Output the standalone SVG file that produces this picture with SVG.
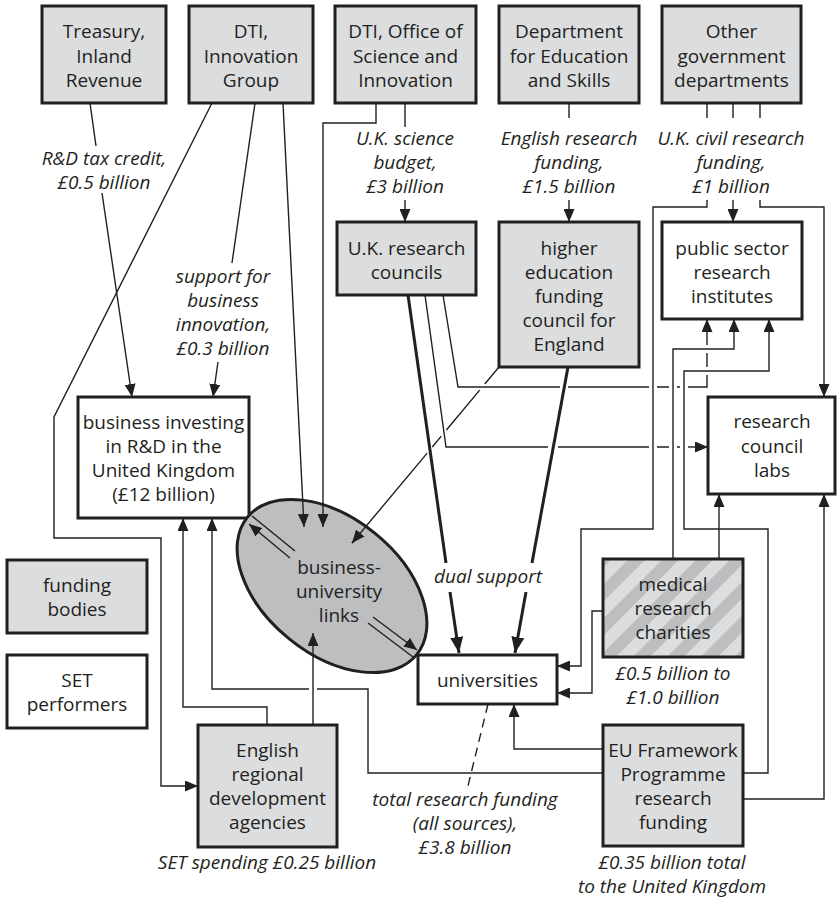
<svg xmlns="http://www.w3.org/2000/svg" width="837" height="899" viewBox="0 0 837 899">
<style>
.box{fill:#dcdddf;stroke:#231f20;stroke-width:3}
.wbox{fill:#fff;stroke:#231f20;stroke-width:3}
.t{font-family:"Open Sans","Noto Sans",sans-serif;font-size:19px;fill:#231f20;text-anchor:middle}
.i{font-style:italic}
.c{fill:none;stroke:#231f20;stroke-width:1.4}
.k{fill:none;stroke:#231f20;stroke-width:3}
.d{stroke-dasharray:9 6}
</style>
<defs>
<marker id="a" viewBox="0 0 13 11" refX="13" refY="5.5" markerWidth="13" markerHeight="11" markerUnits="userSpaceOnUse" orient="auto"><path d="M0,0 L13,5.5 L0,11 z" fill="#231f20"/></marker>
<marker id="b" viewBox="0 0 16 13" refX="16" refY="6.5" markerWidth="16" markerHeight="13" markerUnits="userSpaceOnUse" orient="auto"><path d="M0,0 L16,6.5 L0,13 z" fill="#231f20"/></marker>
<pattern id="hatch" patternUnits="userSpaceOnUse" width="24" height="24" patternTransform="rotate(45)">
<rect width="24" height="24" fill="#dcdddf"/><rect width="12" height="24" fill="#bcbec0"/>
</pattern>
</defs>
<rect width="837" height="899" fill="#fff"/>

<g id="treasury"><rect class="box" x="42" y="6" width="124" height="97"/>
<text class="t" x="104" y="38">Treasury,</text><text class="t" x="104" y="62.5">Inland</text><text class="t" x="104" y="87">Revenue</text></g>
<g id="dti-innovation"><rect class="box" x="189" y="6" width="124" height="97"/>
<text class="t" x="251" y="38">DTI,</text><text class="t" x="251" y="62.5">Innovation</text><text class="t" x="251" y="87">Group</text></g>
<g id="dti-office"><rect class="box" x="335" y="6" width="141" height="97"/>
<text class="t" x="405.5" y="38">DTI, Office of</text><text class="t" x="405.5" y="62.5">Science and</text><text class="t" x="405.5" y="87">Innovation</text></g>
<g id="dfes"><rect class="box" x="499" y="6" width="140" height="97"/>
<text class="t" x="569" y="38">Department</text><text class="t" x="569" y="62.5">for Education</text><text class="t" x="569" y="87">and Skills</text></g>
<g id="other-govt"><rect class="box" x="662" y="6" width="139" height="97"/>
<text class="t" x="731.5" y="38">Other</text><text class="t" x="731.5" y="62.5">government</text><text class="t" x="731.5" y="87">departments</text></g>

<g id="research-councils"><rect class="box" x="337" y="222" width="139" height="73"/>
<text class="t" x="406.5" y="255">U.K. research</text><text class="t" x="406.5" y="279">councils</text></g>
<g id="hefce"><rect class="box" x="499" y="222" width="140" height="145"/>
<text class="t" x="569" y="255">higher</text><text class="t" x="569" y="279">education</text><text class="t" x="569" y="303">funding</text><text class="t" x="569" y="327">council for</text><text class="t" x="569" y="351">England</text></g>
<g id="psri"><rect class="wbox" x="662" y="222" width="140" height="97"/>
<text class="t" x="732" y="255">public sector</text><text class="t" x="732" y="279">research</text><text class="t" x="732" y="303">institutes</text></g>
<g id="rc-labs"><rect class="wbox" x="708" y="397" width="127" height="97"/>
<text class="t" x="772" y="428">research</text><text class="t" x="772" y="452.5">council</text><text class="t" x="772" y="477">labs</text></g>
<g id="business"><rect class="wbox" x="78" y="397" width="171" height="121"/>
<text class="t" x="163.5" y="429">business investing</text><text class="t" x="163.5" y="453">in R&amp;D in the</text><text class="t" x="163.5" y="477">United Kingdom</text><text class="t" x="163.5" y="501">(£12 billion)</text></g>
<g id="links"><ellipse cx="332" cy="586" rx="109" ry="68" transform="rotate(39 332 586)" fill="#bcbec0" stroke="#231f20" stroke-width="3"/>
<text class="t" x="339" y="574">business-</text><text class="t" x="339" y="598">university</text><text class="t" x="339" y="622">links</text></g>
<g id="universities"><rect class="wbox" x="418" y="655" width="139" height="49"/>
<text class="t" x="487.5" y="687">universities</text></g>
<g id="medical"><rect x="603" y="559" width="140" height="98" fill="url(#hatch)" stroke="#231f20" stroke-width="3"/>
<text class="t" x="673" y="591">medical</text><text class="t" x="673" y="615">research</text><text class="t" x="673" y="639">charities</text></g>
<g id="eu"><rect class="box" x="603" y="725" width="140" height="121"/>
<text class="t" x="673" y="757">EU Framework</text><text class="t" x="673" y="781">Programme</text><text class="t" x="673" y="805">research</text><text class="t" x="673" y="829">funding</text></g>
<g id="funding-bodies"><rect class="box" x="7" y="560" width="140" height="73"/>
<text class="t" x="77" y="592">funding</text><text class="t" x="77" y="616">bodies</text></g>
<g id="set-performers"><rect class="wbox" x="7" y="655" width="140" height="73"/>
<text class="t" x="77" y="687">SET</text><text class="t" x="77" y="711">performers</text></g>
<g id="erda"><rect class="box" x="198" y="725" width="139" height="122"/>
<text class="t" x="267.5" y="757">English</text><text class="t" x="267.5" y="781">regional</text><text class="t" x="267.5" y="805">development</text><text class="t" x="267.5" y="829">agencies</text></g>

<g id="connectors">
<path class="c" d="M90,103 L96,146"/>
<path class="c" d="M102,193 L132,397" marker-end="url(#a)"/>
<path class="c" d="M212,103 L54,417 L54,538 L161,538 L161,786 L198,786" marker-end="url(#a)"/>
<path class="c" d="M255,103 L232,263"/>
<path class="c" d="M218,362 L213,397" marker-end="url(#a)"/>
<path class="c" d="M283,103 L304,527" marker-end="url(#a)"/>
<path class="c" d="M376,103 L376,123 L323,123 L323,527" marker-end="url(#a)"/>
<path class="c" d="M405,103 L405,127"/>
<path class="c" d="M405,200 L405,222" marker-end="url(#a)"/>
<path class="c" d="M569,103 L569,118"/>
<path class="c" d="M569,200 L569,222" marker-end="url(#a)"/>
<path class="c" d="M707,103 L707,118 M733,103 L733,118 M760,103 L760,118"/>
<path class="c" d="M707,200 L707,207 L653,207 L653,529 L581,529 L581,666 L557,666" marker-end="url(#a)"/>
<path class="c" d="M733,200 L733,222" marker-end="url(#a)"/>
<path class="c" d="M760,200 L760,207 L824,207 L824,397" marker-end="url(#a)"/>
<path class="k" d="M408,295 L446,563"/>
<path class="k" d="M450,592 L459,653" marker-end="url(#b)"/>
<path class="k" d="M568,367 L532,563"/>
<path class="k" d="M526,592 L515,653" marker-end="url(#b)"/>
<path class="c" d="M425,295 L446,447 L548,447 M558,447 L649,447 M657,447 L669,447 M677,447 L680,447"/>
<path class="c" d="M688,447 L708,447" marker-end="url(#a)"/>
<path class="c" d="M443,295 L458,387 L560,387 M568,387 L649,387 M657,387 L669,387 M677,387 L680,387 M688,387 L707,387 L707,375 M707,367 L707,353"/>
<path class="c" d="M707,345 L707,319" marker-end="url(#a)"/>
<path class="c" d="M499,367 L484.8,384 M479.7,390.1 L446.4,430 M441.3,436.1 L432.3,447 M427.2,453.1 L352,543"/>
<path class="c" d="M360,533.4 L352,543" marker-end="url(#a)"/>
<path class="c" d="M673,559 L673,349 L734,349 L734,319" marker-end="url(#a)"/>
<path class="c" d="M743,773 L768,773 L768,529 L684,529 L684,371 L769,371 L769,319" marker-end="url(#a)"/>
<path class="c" d="M719,559 L719,494" marker-end="url(#a)"/>
<path class="c" d="M743,799 L824,799 L824,494" marker-end="url(#a)"/>
<path class="c" d="M603,611 L592,611 L592,693 L557,693" marker-end="url(#a)"/>
<path class="c" d="M603,749 L514,749 L514,704" marker-end="url(#a)"/>
<path class="c" d="M603,773 L368,773 L368,689 L317,689 M309,689 L212,689 L212,518" marker-end="url(#a)"/>
<path class="c" d="M267,725 L267,707 L183,707 L183,518" marker-end="url(#a)"/>
<path class="c" d="M313,725 L313,633" marker-end="url(#a)"/>
<path class="c" d="M252,516 L295,551"/>
<path class="c" d="M290,558 L249,524" marker-end="url(#a)"/>
<path class="c" d="M373,617 L417,650" marker-end="url(#a)"/>
<path class="c" d="M368,623 L413,657"/>
<path class="c d" d="M488,704 L467,790"/>
</g>

<g id="labels">
<text class="t i" x="104" y="165">R&amp;D tax credit,</text><text class="t i" x="104" y="189">£0.5 billion</text>
<text class="t i" x="223" y="283">support for</text><text class="t i" x="223" y="307">business</text><text class="t i" x="223" y="331">innovation,</text><text class="t i" x="223" y="355">£0.3 billion</text>
<text class="t i" x="405" y="145">U.K. science</text><text class="t i" x="405" y="169">budget,</text><text class="t i" x="405" y="193">£3 billion</text>
<text class="t i" x="569" y="145">English research</text><text class="t i" x="569" y="169">funding,</text><text class="t i" x="569" y="193">£1.5 billion</text>
<text class="t i" x="731" y="145">U.K. civil research</text><text class="t i" x="731" y="169">funding,</text><text class="t i" x="731" y="193">£1 billion</text>
<text class="t i" x="488" y="583">dual support</text>
<text class="t i" x="465" y="806">total research funding</text><text class="t i" x="465" y="830">(all sources),</text><text class="t i" x="465" y="854">£3.8 billion</text>
<text class="t i" x="673" y="680">£0.5 billion to</text><text class="t i" x="673" y="704">£1.0 billion</text>
<text class="t i" x="672" y="869">£0.35 billion total</text><text class="t i" x="672" y="893">to the United Kingdom</text>
<text class="t i" x="267" y="869">SET spending £0.25 billion</text>
</g>
</svg>
